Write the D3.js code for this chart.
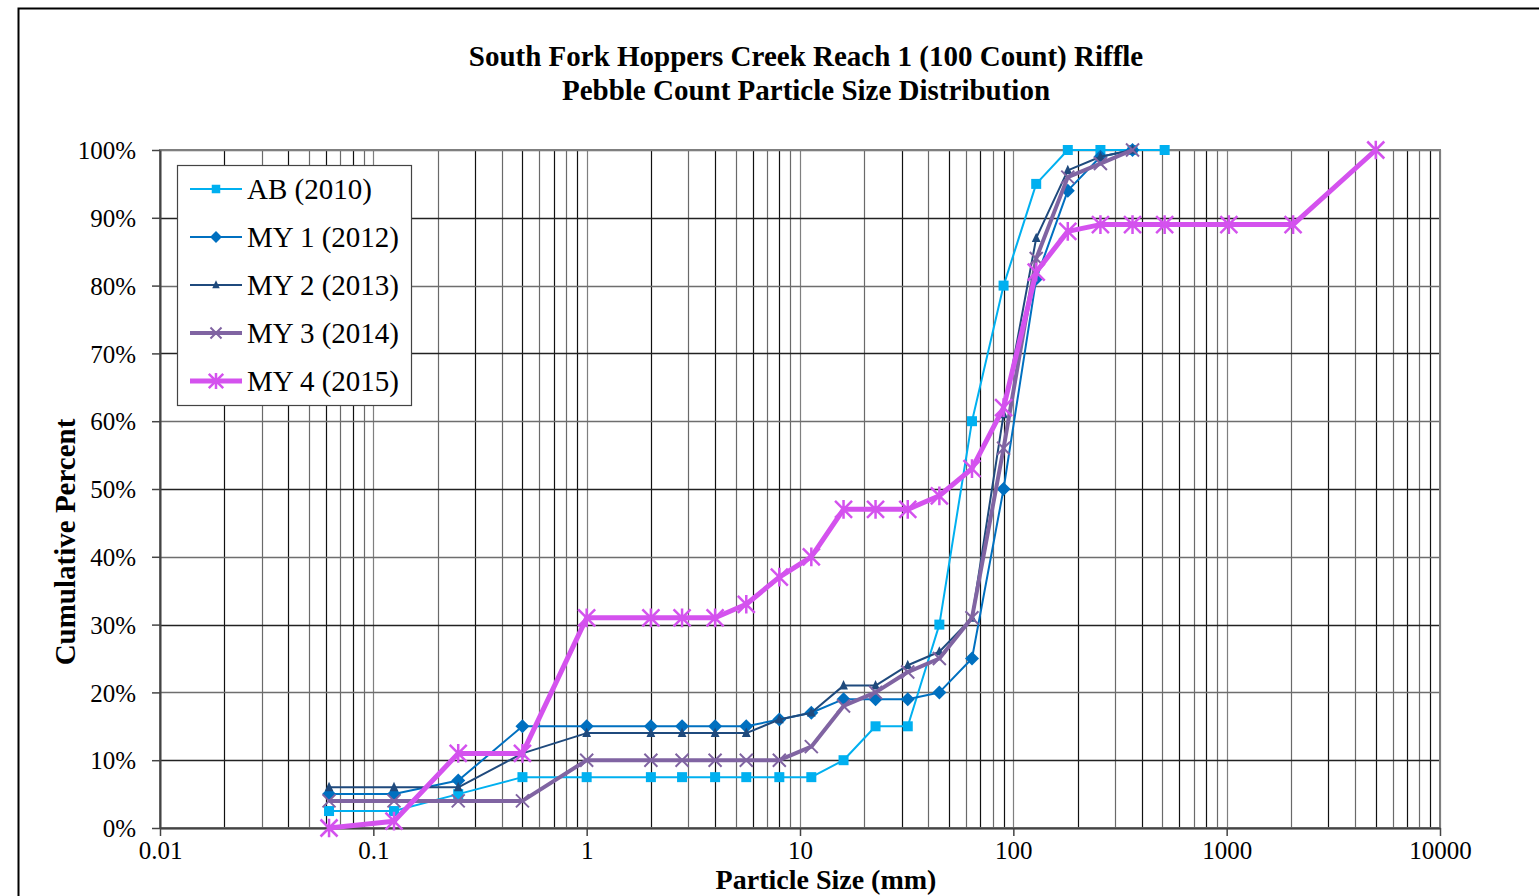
<!DOCTYPE html>
<html><head><meta charset="utf-8">
<script src="https://cdn.jsdelivr.net/npm/d3@7"></script>
<style>body{margin:0;background:#fff;} svg{display:block;}</style>
</head><body>
<svg id="c" width="1539" height="896"></svg>
<script>
const sizes = [0.062, 0.125, 0.25, 0.5, 1, 2, 2.8, 4, 5.6, 8, 11.3, 16, 22.6, 32, 45, 64, 90, 128, 180, 256, 362, 512, 1024, 2048, 5000];
const ab2010 = [2.5, 2.5, 5, 7.5, 7.5, 7.5, 7.5, 7.5, 7.5, 7.5, 7.5, 10, 15, 15, 30, 60, 80, 95, 100, 100, 100, 100];
const my1_2012 = [5, 5, 7, 15, 15, 15, 15, 15, 15, 16, 17, 19, 19, 19, 20, 25, 50, 81, 94, 99, 100];
const my2_2013 = [6, 6, 6, 11, 14, 14, 14, 14, 14, 16, 17, 21, 21, 24, 26, 31, 61, 87, 97, 99, 100];
const my3_2014 = [4, 4, 4, 4, 10, 10, 10, 10, 10, 10, 12, 18, 20, 23, 25, 31, 56, 84, 96, 98, 100];
const my4_2015 = [0, 1, 11, 11, 31, 31, 31, 31, 33, 37, 40, 47, 47, 47, 49, 53, 62, 82, 88, 89, 89, 89, 89, 89, 100];
const seriesNames = ["AB (2010)", "MY 1 (2012)", "MY 2 (2013)", "MY 3 (2014)", "MY 4 (2015)"];
const xTicks = [0.01, 0.1, 1, 10, 100, 1000, 10000];
const yTicks = [0, 10, 20, 30, 40, 50, 60, 70, 80, 90, 100];

const styles = [
  {color: "#00B0F0", width: 2, marker: "square", msize: 10},
  {color: "#0070C0", width: 2, marker: "diamond", msize: 14},
  {color: "#1F4A7D", width: 2, marker: "triangle", msize: 11},
  {color: "#8064A2", width: 4, marker: "x", msize: 13},
  {color: "#D452EE", width: 5, marker: "star", msize: 17}
];
const allData = [ab2010, my1_2012, my2_2013, my3_2014, my4_2015];

const svg = d3.select("#c");
const font = "'Liberation Serif','Times New Roman',serif";
const L = 160, R = 1440, T = 150, B = 828;
const x = d3.scaleLog().domain([0.01, 10000]).range([L, R]);
const y = d3.scaleLinear().domain([0, 100]).range([B, T]);

// outer border
svg.append("rect").attr("x", 18.5).attr("y", 8.5).attr("width", 1540).attr("height", 900)
  .attr("fill", "none").attr("stroke", "#000").attr("stroke-width", 2);

// vertical gridlines (minor + major)
const vg = [];
for (let e = -2; e < 4; e++) for (let m = 1; m < 10; m++) vg.push(m * Math.pow(10, e));
vg.push(10000);
svg.append("g").selectAll("line").data(vg).join("line")
  .attr("x1", d => Math.round(x(d)) + 0.5).attr("x2", d => Math.round(x(d)) + 0.5)
  .attr("y1", T).attr("y2", B)
  .attr("stroke", (d, i) => (i % 9 === 0) ? "#7f7f7f" : (i % 2 ? "#111" : "#6a6a6a"))
  .attr("stroke-width", 1.2);
// horizontal gridlines
svg.append("g").selectAll("line").data(yTicks).join("line")
  .attr("x1", L).attr("x2", R)
  .attr("y1", d => Math.round(y(d)) + 0.5).attr("y2", d => Math.round(y(d)) + 0.5)
  .attr("stroke", (d, i) => i % 2 ? "#222" : "#6e6e6e").attr("stroke-width", 1.5);
// plot border
svg.append("rect").attr("x", L).attr("y", T).attr("width", R - L).attr("height", B - T)
  .attr("fill", "none").attr("stroke", "#7f7f7f").attr("stroke-width", 2);

// axes
const xAxis = d3.axisBottom(x).tickValues(xTicks).tickFormat(d => String(d)).tickSize(8).tickSizeOuter(0);
const gx = svg.append("g").attr("transform", `translate(0,${B})`).call(xAxis);
gx.select(".domain").attr("stroke", "#444").attr("stroke-width", 2);
gx.selectAll(".tick line").attr("stroke", "#444").attr("stroke-width", 1.5);
gx.selectAll(".tick text").attr("font-family", font).attr("font-size", 25).attr("fill", "#000")
  .attr("y", 13).attr("dy", "0.71em");

const yAxis = d3.axisLeft(y).tickValues(yTicks).tickFormat(d => d + "%").tickSize(8).tickSizeOuter(0);
const gy = svg.append("g").attr("transform", `translate(${L},0)`).call(yAxis);
gy.select(".domain").attr("stroke", "#444").attr("stroke-width", 2);
gy.selectAll(".tick line").attr("stroke", "#444").attr("stroke-width", 1.5);
gy.selectAll(".tick text").attr("font-family", font).attr("font-size", 25).attr("fill", "#000").attr("x", -24).attr("dy", "0.35em");

// titles
svg.append("text").attr("x", 806).attr("y", 66).attr("text-anchor", "middle")
  .attr("font-family", font).attr("font-weight", "bold").attr("font-size", 29)
  .text("South Fork Hoppers Creek Reach 1 (100 Count) Riffle");
svg.append("text").attr("x", 806).attr("y", 100).attr("text-anchor", "middle")
  .attr("font-family", font).attr("font-weight", "bold").attr("font-size", 29)
  .text("Pebble Count Particle Size Distribution");
svg.append("text").attr("transform", "translate(75,542) rotate(-90)").attr("text-anchor", "middle")
  .attr("font-family", font).attr("font-weight", "bold").attr("font-size", 29)
  .text("Cumulative Percent");
svg.append("text").attr("x", 826).attr("y", 889).attr("text-anchor", "middle")
  .attr("font-family", font).attr("font-weight", "bold").attr("font-size", 28)
  .text("Particle Size (mm)");

function drawMarker(g, type, s, color) {
  const h = s / 2;
  if (type === "square") {
    g.append("rect").attr("x", -h).attr("y", -h).attr("width", s).attr("height", s).attr("fill", color);
  } else if (type === "diamond") {
    g.append("path").attr("d", `M0,${-h}L${h},0L0,${h}L${-h},0Z`).attr("fill", color);
  } else if (type === "triangle") {
    g.append("path").attr("d", `M0,${-h}L${h * 0.8},${h * 0.7}L${-h * 0.8},${h * 0.7}Z`).attr("fill", color);
  } else if (type === "x") {
    g.append("path").attr("d", `M${-h},${-h}L${h},${h}M${-h},${h}L${h},${-h}`).attr("stroke", color).attr("stroke-width", 2).attr("fill", "none");
  } else if (type === "star") {
    g.append("path").attr("d", `M${-h},${-h}L${h},${h}M${-h},${h}L${h},${-h}M0,${-h * 1.1}L0,${h * 1.1}`).attr("stroke", color).attr("stroke-width", 2.5).attr("fill", "none");
  }
}

// series
allData.forEach((vals, si) => {
  const st = styles[si];
  const pts = vals.map((v, i) => [sizes[i], v]);
  const line = d3.line().x(d => x(d[0])).y(d => y(d[1]));
  const g = svg.append("g");
  g.append("path").datum(pts).attr("d", line).attr("fill", "none")
    .attr("stroke", st.color).attr("stroke-width", st.width).attr("stroke-linejoin", "round");
  pts.forEach(p => {
    const mg = g.append("g").attr("transform", `translate(${x(p[0])},${y(p[1])})`);
    drawMarker(mg, st.marker, st.msize, st.color);
  });
});

// legend
const lg = svg.append("g");
lg.append("rect").attr("x", 177.5).attr("y", 165.5).attr("width", 234).attr("height", 240)
  .attr("fill", "#fff").attr("stroke", "#444").attr("stroke-width", 1.2);
seriesNames.forEach((name, i) => {
  const st = styles[i];
  const cy = 189 + i * 48;
  lg.append("line").attr("x1", 190).attr("x2", 242).attr("y1", cy).attr("y2", cy)
    .attr("stroke", st.color).attr("stroke-width", st.width);
  const mg = lg.append("g").attr("transform", `translate(216,${cy})`);
  drawMarker(mg, st.marker, st.msize * 0.85, st.color);
  lg.append("text").attr("x", 247).attr("y", cy).attr("dy", "0.35em")
    .attr("font-family", font).attr("font-size", 29).text(name);
});
</script>
</body></html>
